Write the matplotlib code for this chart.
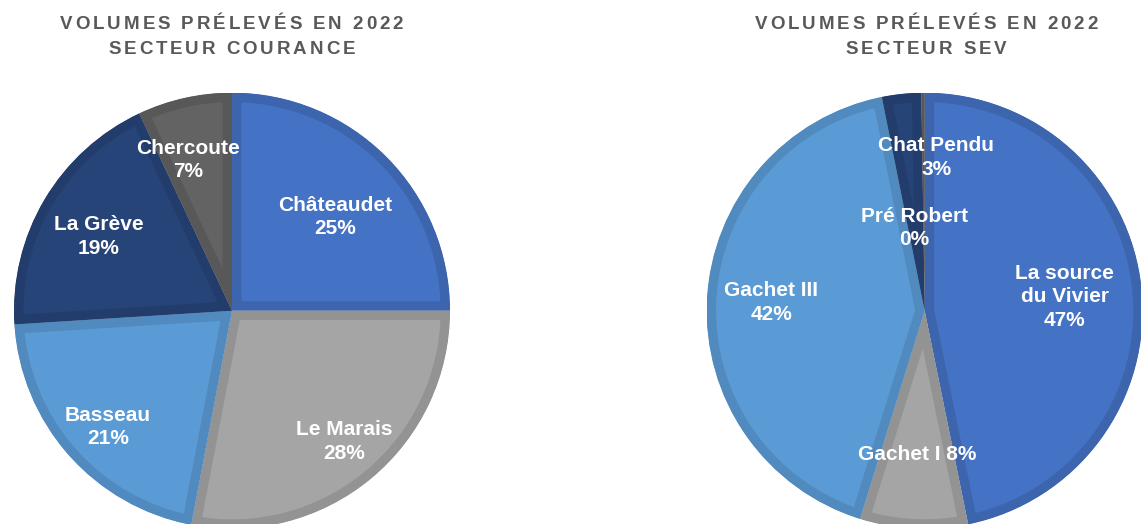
import numpy as np
import matplotlib
matplotlib.use("Agg")
import matplotlib.pyplot as plt
from matplotlib import font_manager
from matplotlib.ft2font import FT2Font, LoadFlags
from matplotlib.colors import to_rgb

# ---------------- data ----------------
left_title = ["VOLUMES PRÉLEVÉS EN 2022", "SECTEUR COURANCE"]
left_labels = ["Châteaudet", "Le Marais", "Basseau", "La Grève", "Chercoute"]
left_values = [25, 28, 21, 19, 7]
left_pct = ["25%", "28%", "21%", "19%", "7%"]

right_title = ["VOLUMES PRÉLEVÉS EN 2022", "SECTEUR SEV"]
right_labels = ["La source\ndu Vivier", "Gachet I", "Gachet III", "Chat Pendu", "Pré Robert"]
right_values = [46.8, 8.0, 42.05, 2.9, 0.25]
right_pct = ["47%", "8%", "42%", "3%", "0%"]

# ---------------- style / layout ----------------
W, H = 1141, 524
DPI = 100
left_colors = ["#4472C4", "#A5A5A5", "#5B9BD5", "#264478", "#636363"]
right_colors = ["#4472C4", "#A5A5A5", "#5B9BD5", "#264478", "#636363"]
TITLE_COLOR = "#595959"
FONT = "Liberation Sans"

# label placement: radius fraction, optional angle override (deg clockwise from top), single-line flag
left_label_r = [0.64, 0.79, 0.78, 0.70, 0.72]
left_label_ang = [47.9, 139.4, 226.8, 299.2, 343.8]
right_label_r = [0.645, 0.66, 0.705, 0.705, 0.383]
right_label_ang = [None, None, None, 4.3, 352.7]
right_single = [False, True, False, False, False]

fig = plt.figure(figsize=(W / DPI, H / DPI), dpi=DPI)
fig.patch.set_facecolor("white")


def darker(c, f=0.89):
    r, g, b = to_rgb(c)
    return (r * f, g * f, b * f)


def spaced_title(xc, yc, text, size, spacing):
    fp = font_manager.FontProperties(family=FONT, weight="bold", size=size)
    ft = FT2Font(font_manager.findfont(fp))
    ft.set_size(size, DPI)
    advs = []
    for ch in text:
        g = ft.load_char(ord(ch), flags=LoadFlags.NO_HINTING)
        advs.append(g.linearHoriAdvance / 65536)
    total = sum(advs) + spacing * (len(text) - 1)
    x = xc - total / 2
    for ch, a in zip(text, advs):
        fig.text(x / W, 1 - yc / H, ch, fontproperties=fp, color=TITLE_COLOR,
                 ha="left", va="center")
        x += a + spacing


def draw_pie(cx, cy, R, values, colors, labels, pcts, rads, angs, singles, title, tx):
    ax = fig.add_axes([(cx - R) / W, (H - cy - R) / H, 2 * R / W, 2 * R / H])
    wedges, _ = ax.pie(values, colors=colors, startangle=90, counterclock=False,
                       radius=1.0, wedgeprops=dict(linewidth=0))
    for w, c in zip(wedges, colors):
        w.set_edgecolor(darker(c))
        w.set_linewidth(13.5)
        w.set_clip_on(True)
        w.set_clip_path(w)
    ax.set_xlim(-1, 1)
    ax.set_ylim(-1, 1)
    ax.set_aspect("auto")
    ax.axis("off")
    for i, w in enumerate(wedges):
        if angs[i] is None:
            mid = (w.theta1 + w.theta2) / 2.0
            ang_rad = np.deg2rad(mid)
        else:
            ang_rad = np.deg2rad(90 - angs[i])
        r = rads[i]
        x, y = r * np.cos(ang_rad), r * np.sin(ang_rad)
        txt = labels[i] + (" " if singles[i] else "\n") + pcts[i]
        ax.text(x, y, txt, ha="center", va="center", color="white",
                fontsize=15, fontweight="bold", family=FONT,
                linespacing=1.3, clip_on=False)
    spaced_title(tx, 24.5, title[0], 13.5, 2.9)
    spaced_title(tx, 49, title[1], 13.5, 2.9)


draw_pie(232, 310.7, 218, left_values, left_colors, left_labels, left_pct,
         left_label_r, left_label_ang, [False] * 5, left_title, 231.5)
draw_pie(924.7, 310.7, 218, right_values, right_colors, right_labels, right_pct,
         right_label_r, right_label_ang, right_single, right_title, 926)

fig.savefig("out.png", dpi=DPI, facecolor="white")
